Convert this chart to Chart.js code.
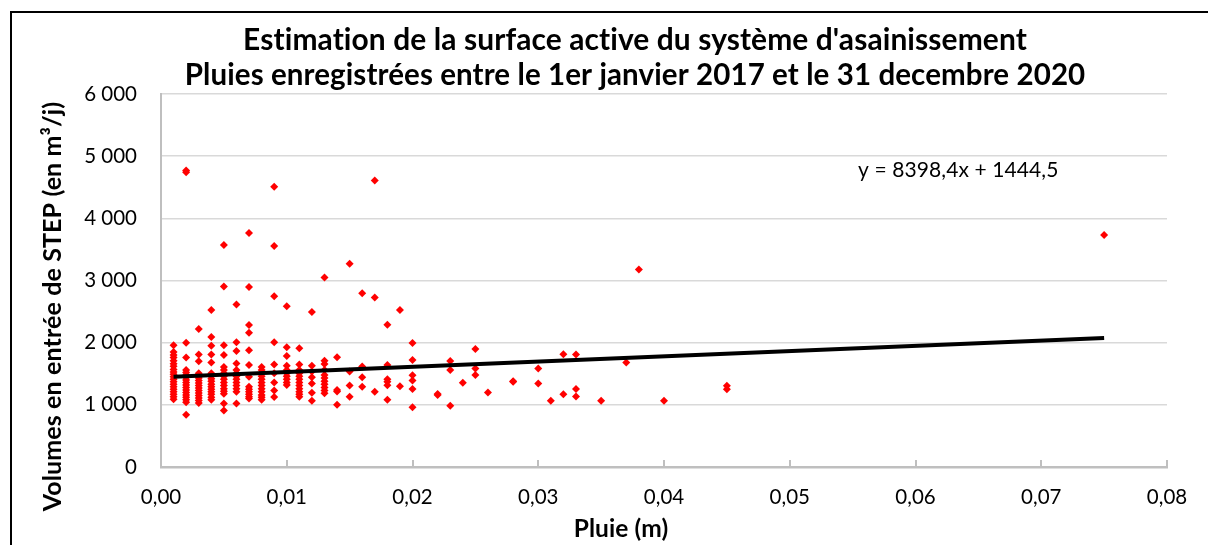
<!DOCTYPE html>
<html><head><meta charset="utf-8">
<script src="https://cdn.jsdelivr.net/npm/chart.js@4.4.1/dist/chart.umd.min.js"></script>
<style>html,body{margin:0;padding:0;background:#fff;overflow:hidden;}</style>
</head><body>
<canvas id="c" width="1208" height="545"></canvas>
<script>
// ---- Text ----
const titleLines = [
  "Estimation de la surface active du système d'asainissement",
  "Pluies enregistrées entre le 1er janvier 2017 et le 31 decembre 2020"
];
const xAxisTitle = "Pluie (m)";
const yAxisTitle = "Volumes en entrée de STEP (en m³/j)";
const equationText = "y = 8398,4x + 1444,5";

// ---- Tick labels ----
const xTickLabels = ["0,00","0,01","0,02","0,03","0,04","0,05","0,06","0,07","0,08"];
const yTickLabels = ["0","1 000","2 000","3 000","4 000","5 000","6 000"];

// ---- Trendline (from displayed equation) ----
const trendSlope = 8398.4;
const trendIntercept = 1444.5;
const trendRange = [0.001, 0.075];

// ---- Data: rainfall (m) and the daily volumes observed at each rainfall ----
const rainLevels = [0.001,0.002,0.003,0.004,0.005,0.006,0.007,0.008,0.009,0.010,
  0.011,0.012,0.013,0.014,0.015,0.016,0.017,0.018,0.019,0.020,
  0.022,0.023,0.024,0.025,0.026,0.028,0.030,0.031,0.032,0.033,
  0.035,0.037,0.038,0.040,0.045,0.075];
const volumesByRain = [
  [1960,1850,1800,1760,1710,1660,1620,1570,1530,1490,1450,1410,1370,1330,1290,1250,1210,1170,1130,1090],
  [4770,4740,2000,1760,1560,1520,1480,1440,1400,1360,1320,1280,1240,1200,1160,1120,1080,1040,840],
  [2220,1810,1700,1510,1470,1430,1390,1350,1310,1270,1230,1190,1150,1110,1070,1030],
  [2525,2090,1950,1810,1680,1510,1460,1420,1380,1330,1290,1250,1210,1170,1120,1080],
  [3570,2905,1960,1800,1610,1560,1510,1460,1410,1360,1310,1260,1220,1180,1020,910],
  [2615,2005,1865,1665,1560,1510,1460,1410,1360,1310,1260,1210,1020],
  [3765,2895,2285,2160,1880,1640,1450,1290,1250,1210,1170,1130,1100],
  [1610,1560,1510,1460,1410,1360,1310,1260,1210,1160,1120,1080],
  [4510,3555,2745,2005,1650,1510,1360,1230,1125],
  [2585,1925,1785,1630,1560,1510,1460,1410,1360,1320],
  [1910,1650,1560,1510,1460,1410,1360,1310,1260,1210,1170,1130],
  [2495,1630,1535,1445,1345,1195,1065],
  [3050,1710,1655,1560,1480,1430,1380,1330,1280,1230,1185],
  [1765,1240,1215,1000],
  [3270,1535,1310,1130],
  [2795,1615,1445,1290],
  [4610,2725,1210],
  [2290,1640,1410,1370,1315,1080],
  [2525,1300],
  [1995,1720,1475,1390,1255,960],
  [1175,1160],
  [1705,1560,985],
  [1355],
  [1900,1585,1480],
  [1200],
  [1380,1370],
  [1585,1345],
  [1065],
  [1815,1170],
  [1810,1255,1135],
  [1065],
  [1680],
  [3175],
  [1065],
  [1305,1250],
  [3730]
];

const points = [];
rainLevels.forEach((r, i) => volumesByRain[i].forEach(v => points.push({x: r, y: v})));
const trendPoints = trendRange.map(x => ({x: x, y: trendSlope * x + trendIntercept}));

const FONT = "Lato, 'Open Sans', sans-serif";

function fitSize(ctx, text, weight, targetW) {
  ctx.font = weight + " 100px " + FONT;
  return 100 * targetW / ctx.measureText(text).width;
}

const decorPlugin = {
  id: 'decor',
  beforeDraw(chart) {
    const ctx = chart.ctx;
    ctx.save();
    ctx.fillStyle = '#fff';
    ctx.fillRect(0, 0, chart.width, chart.height);
    ctx.strokeStyle = '#000';
    ctx.lineWidth = 2;
    ctx.strokeRect(11, 12, 1400, 800);
    ctx.restore();
  },
  afterDraw(chart) {
    const ctx = chart.ctx;
    const xs = chart.scales.x;
    const bottom = chart.chartArea.bottom;
    ctx.save();
    // inside tick marks on the x axis
    ctx.strokeStyle = '#bfbfbf';
    ctx.lineWidth = 2;
    xs.ticks.forEach(t => {
      const px = Math.round(xs.getPixelForValue(t.value));
      ctx.beginPath();
      ctx.moveTo(px, bottom);
      ctx.lineTo(px, bottom - 7);
      ctx.stroke();
    });
    ctx.fillStyle = '#000';
    if ('letterSpacing' in ctx) ctx.letterSpacing = '0.1px';
    // title
    ctx.textAlign = 'center';
    ctx.textBaseline = 'alphabetic';
    let s = fitSize(ctx, titleLines[0], 'bold', 780);
    ctx.font = 'bold ' + s + 'px ' + FONT;
    ctx.fillText(titleLines[0], 635, 50);
    s = fitSize(ctx, titleLines[1], 'bold', 896);
    ctx.font = 'bold ' + s + 'px ' + FONT;
    ctx.fillText(titleLines[1], 635, 85);
    // x axis title
    s = fitSize(ctx, xAxisTitle, 'bold', 94);
    ctx.font = 'bold ' + s + 'px ' + FONT;
    ctx.fillText(xAxisTitle, 621, 537);
    // equation
    ctx.textAlign = 'left';
    s = fitSize(ctx, equationText, 'normal', 199);
    ctx.font = 'normal ' + s + 'px ' + FONT;
    ctx.fillText(equationText, 858, 176.5);
    // y axis title
    s = fitSize(ctx, yAxisTitle, 'bold', 407);
    ctx.font = 'bold ' + s + 'px ' + FONT;
    ctx.translate(61, 306.5);
    ctx.rotate(-Math.PI / 2);
    ctx.textAlign = 'center';
    ctx.fillText(yAxisTitle, 0, 0);
    ctx.restore();
  }
};

new Chart(document.getElementById('c'), {
  type: 'scatter',
  data: {
    datasets: [
      {
        label: 'Tendance',
        data: trendPoints,
        showLine: true,
        borderColor: '#000',
        borderWidth: 4,
        pointRadius: 0,
        fill: false
      },
      {
        label: 'Volumes',
        data: points,
        pointStyle: 'rectRot',
        pointRadius: 4,
        pointHoverRadius: 4,
        backgroundColor: '#ff0000',
        borderColor: '#ff0000',
        borderWidth: 0
      }
    ]
  },
  options: {
    responsive: false,
    devicePixelRatio: 1,
    animation: false,
    events: [],
    layout: { padding: { top: 94, right: 41, left: 0, bottom: 0 } },
    plugins: { legend: { display: false }, tooltip: { enabled: false }, title: { display: false } },
    scales: {
      x: {
        type: 'linear',
        min: 0, max: 0.08,
        afterFit(scale) { scale.height = 78; },
        ticks: {
          stepSize: 0.01,
          padding: 18,
          color: '#000',
          font: { family: FONT, size: 20.5 },
          maxRotation: 0,
          callback: (v, i) => xTickLabels[i]
        },
        grid: { display: false, drawTicks: false },
        border: { display: true, color: '#bfbfbf', width: 2.5 }
      },
      y: {
        min: 0, max: 6000,
        afterFit(scale) { scale.width = 161; },
        ticks: {
          stepSize: 1000,
          padding: 24,
          color: '#000',
          font: { family: FONT, size: 20.5 },
          callback: (v, i) => yTickLabels[i]
        },
        grid: {
          drawTicks: false,
          color: ctx => ctx.tick && ctx.tick.value === 0 ? '#bfbfbf' : '#d9d9d9',
          lineWidth: 1.6
        },
        border: { display: true, color: '#bfbfbf', width: 2 }
      }
    }
  },
  plugins: [decorPlugin]
});
</script>
</body></html>
